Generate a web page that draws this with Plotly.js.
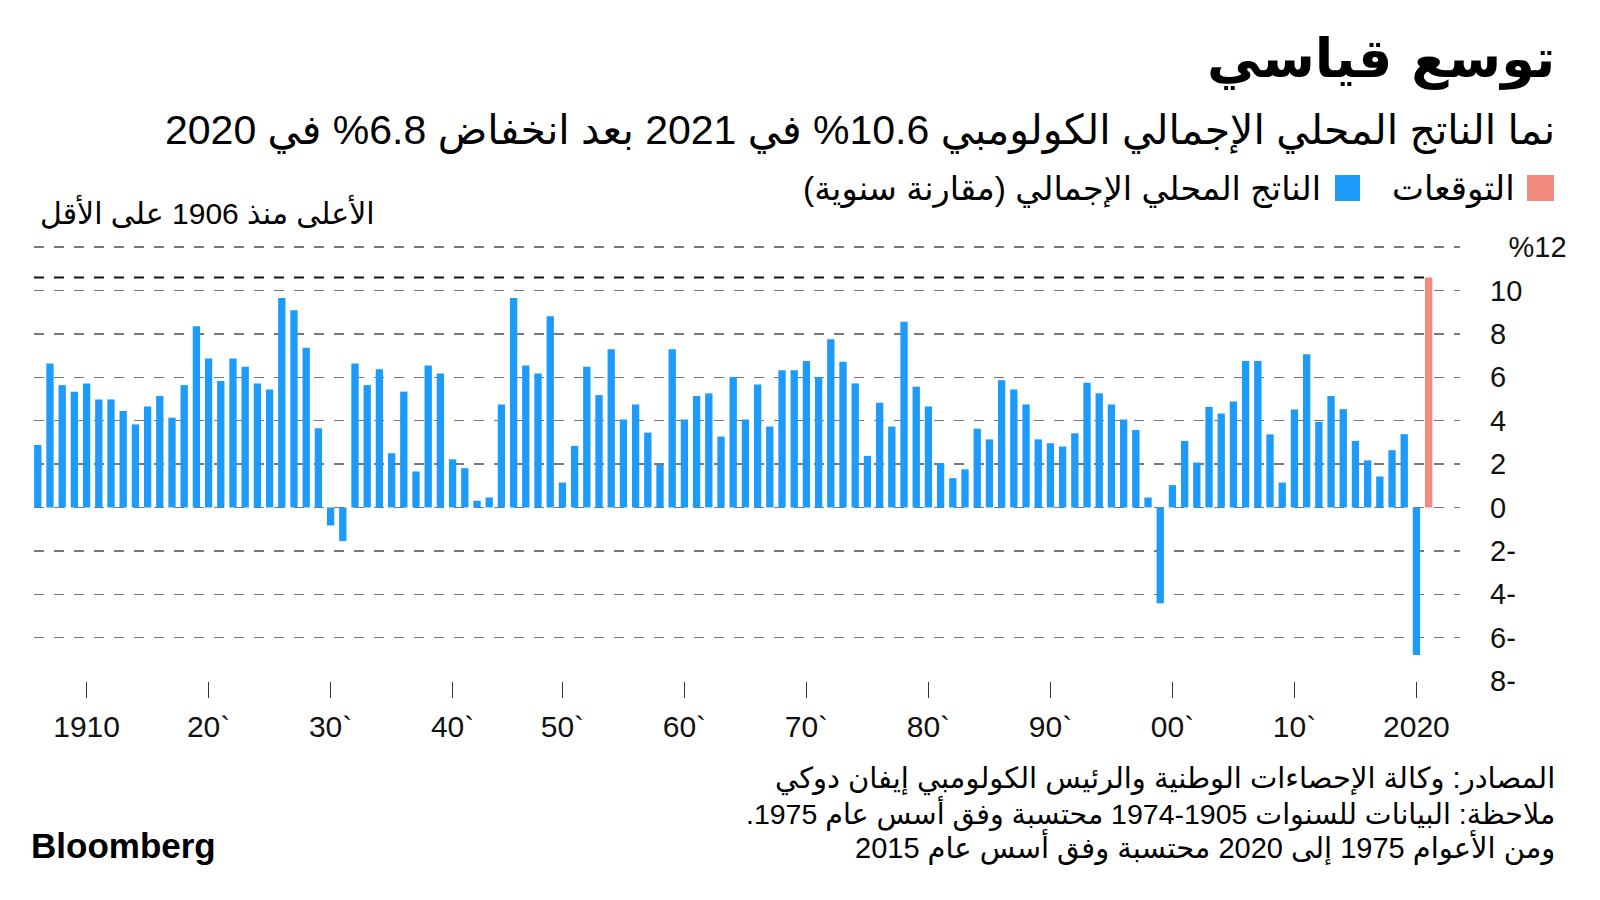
<!DOCTYPE html>
<html><head><meta charset="utf-8">
<script src="https://cdn.plot.ly/plotly-3.0.1.min.js"></script>
<style>html,body{margin:0;padding:0;background:#fff;}#chart{width:1600px;height:900px;}</style>
</head><body><div id="chart"></div>
<script>
// ---- data ----
const years = [1906,1907,1908,1909,1910,1911,1912,1913,1914,1915,1916,1917,1918,1919,
  1920,1921,1922,1923,1924,1925,1926,1927,1928,1929,1930,1931,1932,1933,1934,1935,1936,
  1937,1938,1939,1940,1941,1942,1943,1945,1946,1947,1948,1949,1950,1951,1952,1953,1954,
  1955,1956,1957,1958,1959,1960,1961,1962,1963,1964,1965,1966,1967,1968,1969,1970,1971,
  1972,1973,1974,1975,1976,1977,1978,1979,1980,1981,1982,1983,1984,1985,1986,1987,1988,
  1989,1990,1991,1992,1993,1994,1995,1996,1997,1998,1999,2000,2001,2002,2003,2004,2005,
  2006,2007,2008,2009,2010,2011,2012,2013,2014,2015,2016,2017,2018,2019,2020];
const gdpGrowth = [2.88,6.64,5.64,5.34,5.72,4.98,4.98,4.45,3.83,4.65,5.14,4.14,5.64,8.36,
  6.87,5.83,6.87,6.49,5.72,5.44,9.66,9.09,7.36,3.65,-0.83,-1.55,6.64,5.64,6.37,2.50,5.34,
  1.66,6.55,6.18,2.22,1.81,0.31,0.46,4.75,9.66,6.55,6.18,8.82,1.15,2.84,6.49,5.18,7.29,
  4.06,4.75,3.45,1.96,7.29,4.06,5.14,5.26,3.27,6.01,4.06,5.67,3.73,6.33,6.33,6.75,6.01,
  7.75,6.72,5.72,2.38,4.83,3.73,8.56,5.57,4.65,2.04,1.35,1.76,3.63,3.14,5.87,5.44,4.75,
  3.14,2.96,2.81,3.42,5.75,5.26,4.75,4.06,3.57,0.46,-4.42,1.03,3.07,2.07,4.64,4.33,4.88,
  6.75,6.75,3.37,1.15,4.52,7.06,3.95,5.14,4.53,3.07,2.17,1.43,2.64,3.38,-6.8];
const forecastYears = [2021];
const forecastValues = [10.6];
const xTickYears = [1910,1920,1930,1940,1950,1960,1970,1980,1990,2000,2010,2020];
const xTickLabels = ['1910','20`','30`','40`','50`','60`','70`','80`','90`','00`','10`','2020'];
const yTickValues = [-8,-6,-4,-2,0,2,4,6,8,10,12];
const yTickLabels = ['8-','6-','4-','2-','0','2','4','6','8','10','\u2007\u200A%12'];

const titleText = 'توسع قياسي';
const subtitleText = 'نما الناتج المحلي الإجمالي الكولومبي 10.6% في 2021 بعد انخفاض 6.8% في 2020';
const legendForecast = 'التوقعات';
const legendGdp = 'الناتج المحلي الإجمالي (مقارنة سنوية)';
const noteHigh = 'الأعلى منذ 1906 على الأقل';
const sourceLines = [
  'المصادر: وكالة الإحصاءات الوطنية والرئيس الكولومبي إيفان دوكي',
  'ملاحظة: البيانات للسنوات 1905-1974 محتسبة وفق أسس عام 1975.',
  'ومن الأعوام 1975 إلى 2020 محتسبة وفق أسس عام 2015'
];

// ---- layout helpers ----
const W = 1600, H = 900;
const M = {l:34, r:140, t:245, b:219};
const PW = W - M.l - M.r, PH = H - M.t - M.b;
const px = x => (x - M.l) / PW;
const py = y => (H - M.b - y) / PH;
const rtl = s => '\u202B' + s + '\u202C';
const FONT = "'Liberation Sans','DejaVu Sans',sans-serif";
const BLUE = '#1d9bfb', SALMON = '#f38b7e';

const cats = years.map(String).concat(forecastYears.map(String));
const fIdx = cats.indexOf(String(forecastYears[0]));

const traces = [
  {type:'bar', x: years.map(String), y: gdpGrowth, marker:{color:BLUE, line:{width:0}}, hoverinfo:'skip'},
  {type:'bar', x: forecastYears.map(String), y: forecastValues, marker:{color:SALMON, line:{width:0}}, hoverinfo:'skip'}
];

function ann(text, x, y, xanchor, size, opts) {
  return Object.assign({text: text, xref:'paper', yref:'paper', x: px(x), y: py(y),
    xanchor: xanchor, yanchor:'middle', showarrow:false,
    font:{family:FONT, size:size, color:'#000'}}, opts || {});
}

const annotations = [
  ann(rtl(titleText), 1557, 58, 'right', 54, {font:{family:"'DejaVu Sans',sans-serif", size:54, color:'#000', weight:700}}),
  ann(rtl(subtitleText), 1557, 131, 'right', 41),
  ann(rtl(legendForecast), 1517, 189, 'right', 34),
  ann(rtl(legendGdp), 1323, 189, 'right', 33.5),
  ann(rtl(noteHigh), 38, 212, 'left', 30),
  ann(rtl(sourceLines[0]), 1557, 779, 'right', 29),
  ann(rtl(sourceLines[1]), 1557, 813, 'right', 28.5),
  ann(rtl(sourceLines[2]), 1557, 847, 'right', 29),
  ann('Bloomberg', 29, 845, 'left', 35, {font:{family:"'Liberation Sans',sans-serif", size:35, color:'#000', weight:700}})
];

const shapes = [
  {type:'line', xref:'x', yref:'y', x0:-0.31, x1: fIdx - 0.3, y0: forecastValues[0], y1: forecastValues[0],
   line:{color:'#111', width:2, dash:'10px,10px'}, layer:'below'},
  {type:'rect', xref:'paper', yref:'paper', x0:px(1527), x1:px(1554), y0:py(201), y1:py(175),
   fillcolor:SALMON, line:{width:0}},
  {type:'rect', xref:'paper', yref:'paper', x0:px(1335), x1:px(1360), y0:py(201), y1:py(175),
   fillcolor:BLUE, line:{width:0}}
];

const layout = {
  width:W, height:H, margin:{l:M.l, r:M.r, t:M.t, b:M.b, pad:0},
  paper_bgcolor:'#fff', plot_bgcolor:'#fff',
  showlegend:false, barmode:'overlay', bargap:0.4,
  font:{family:FONT, color:'#111'},
  xaxis:{type:'category', categoryorder:'array', categoryarray:cats,
    range:[-0.31, fIdx + 2.57], showgrid:false, zeroline:false, showline:false,
    tickmode:'array', tickvals:xTickYears.map(String), ticktext:xTickLabels,
    ticks:'outside', ticklen:16, tickwidth:1.5, tickcolor:'#333', ticklabelstandoff:3,
    tickfont:{family:FONT, size:30, color:'#111'}, fixedrange:true},
  yaxis:{side:'right', range:[-8, 12.1], tickmode:'array', tickvals:yTickValues, ticktext:yTickLabels,
    showgrid:true, gridcolor:'#777', gridwidth:1.4, griddash:'10px,10px',
    zeroline:false, showline:false, ticks:'', ticklabelstandoff:29,
    tickfont:{family:FONT, size:29, color:'#111'}, fixedrange:true},
  annotations: annotations,
  shapes: shapes
};

Plotly.newPlot('chart', traces, layout, {staticPlot:true, displayModeBar:false});
</script></body></html>
